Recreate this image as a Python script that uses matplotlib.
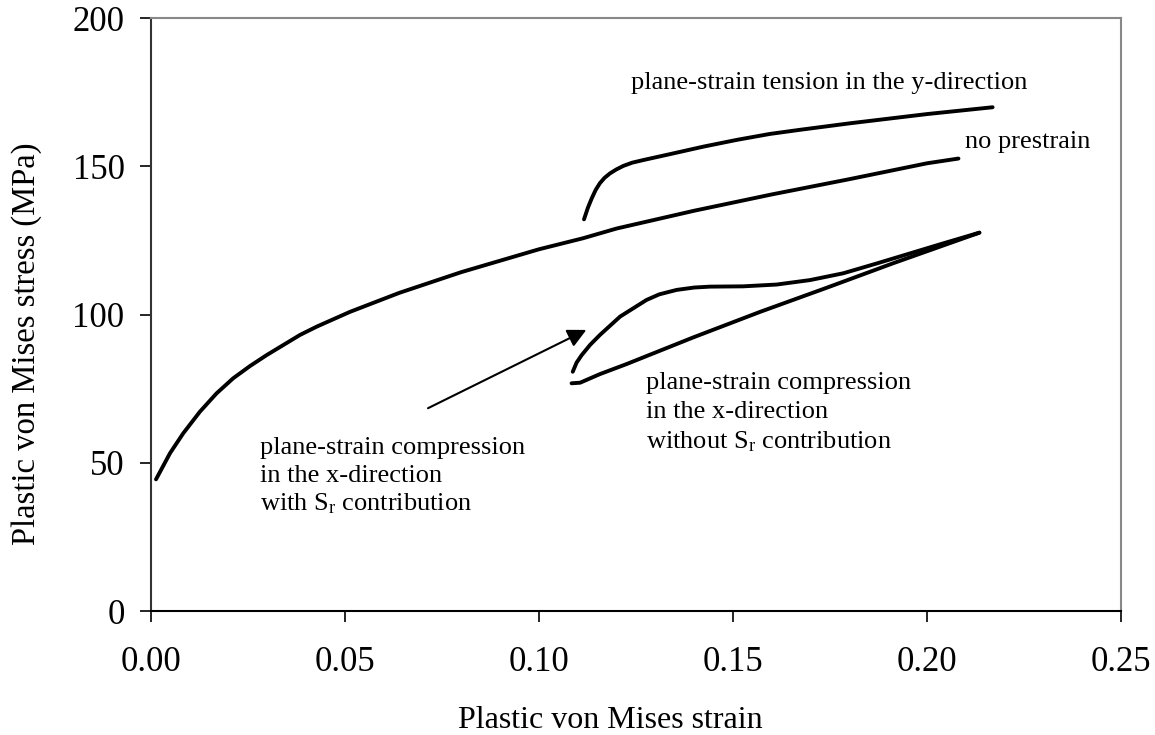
import numpy as np
import matplotlib.pyplot as plt

plt.rcParams['font.family'] = ['Liberation Serif', 'DejaVu Serif']
plt.rcParams['mathtext.fontset'] = 'custom'
plt.rcParams['mathtext.rm'] = 'Liberation Serif'
plt.rcParams['mathtext.it'] = 'Liberation Serif'

# no prestrain
strain_none = [0.0013, 0.0049, 0.0083, 0.0126, 0.0169, 0.0212, 0.0255, 0.0298,
               0.0341, 0.0384, 0.0427, 0.0513, 0.064, 0.08, 0.10, 0.1113, 0.12,
               0.14, 0.16, 0.1802, 0.20, 0.2081]
stress_none = [44.4, 53.2, 59.9, 67.2, 73.4, 78.5, 82.6, 86.3,
               89.7, 93.1, 95.9, 100.9, 107.3, 114.3, 122, 125.7, 129,
               135, 140.5, 145.7, 151, 152.6]

# plane-strain tension in the y-direction
strain_tens = [0.1116, 0.1126, 0.1136, 0.1146, 0.1157, 0.1169, 0.1183, 0.1199,
               0.1217, 0.124, 0.1269, 0.1338, 0.1423, 0.151, 0.1595, 0.1673,
               0.1802, 0.20, 0.2169]
stress_tens = [132.1, 136.0, 139.2, 142.0, 144.3, 146.1, 147.6, 148.9,
               150.1, 151.2, 152.1, 154.1, 156.6, 158.9, 160.9, 162.3,
               164.5, 167.6, 169.9]

# plane-strain compression in x, with Sr contribution
strain_with = [0.1087, 0.1097, 0.111, 0.1132, 0.1157, 0.1209, 0.1277, 0.131,
               0.1355, 0.14, 0.1441, 0.1526, 0.1612, 0.1698, 0.1784, 0.187,
               0.1956, 0.2042, 0.2135]
stress_with = [80.7, 83.8, 86.3, 89.8, 93.1, 99.3, 104.9, 106.8,
               108.3, 109.1, 109.4, 109.5, 110.1, 111.6, 113.9, 117.2,
               120.6, 124, 127.6]

# plane-strain compression in x, without Sr contribution
strain_wo = [0.1084, 0.1106, 0.1157, 0.1226, 0.1398, 0.157, 0.1741, 0.1913, 0.2135]
stress_wo = [76.8, 77.0, 79.9, 83.3, 92.3, 100.9, 109.0, 117.3, 127.6]

fig = plt.figure(figsize=(11.55, 7.35), dpi=100)
ax = fig.add_axes([0.1307, 0.1687, 0.8399, 0.8068])

lw = 2.8
for xs, ys in [(strain_none, stress_none), (strain_tens, stress_tens),
               (strain_with, stress_with), (strain_wo, stress_wo)]:
    ax.plot(xs, ys, color='black', lw=lw, solid_capstyle='round',
            solid_joinstyle='round')

ax.set_xlim(0, 0.25)
ax.set_ylim(0, 200)
ax.set_xticks(np.arange(0, 0.26, 0.05))
ax.set_xticklabels(['0.00', '0.05', '0.10', '0.15', '0.20', '0.25'])
ax.set_yticks([0, 50, 100, 150, 200])
ax.tick_params(axis='both', labelsize=25, direction='out', length=8, width=1.2)
ax.tick_params(axis='x', pad=17)
ax.tick_params(axis='y', pad=11)

ax.spines['bottom'].set_color('black')
ax.spines['left'].set_color('#333333')
ax.spines['top'].set_color('#888888')
ax.spines['right'].set_color('#888888')
for s in ax.spines.values():
    s.set_linewidth(1.5)

ax.set_xlabel('Plastic von Mises strain', fontsize=23)
ax.xaxis.set_label_coords(0.474, -0.197)
ax.xaxis.label.set_verticalalignment('baseline')
ax.set_ylabel('Plastic von Mises stress (MPa)', fontsize=23.5)
ax.yaxis.set_label_coords(-0.128, 0.45)
ax.yaxis.label.set_verticalalignment('center')

fs = 19
ax.text(0.1237, 176.1, 'plane-strain tension in the y-direction', fontsize=fs, va='baseline')
ax.text(0.2098, 156.1, 'no prestrain', fontsize=fs, va='baseline')

lines_wo = ['plane-strain compression', 'in the x-direction',
            'without S$_\\mathrm{r}$ contribution']
lines_with = ['plane-strain compression', 'in the x-direction',
              'with S$_\\mathrm{r}$ contribution']
for i, t in enumerate(lines_wo):
    ax.text(0.1276, 74.9 - i * 9.95, t, fontsize=fs, va='baseline')
for i, t in enumerate(lines_with):
    ax.text(0.0281, 53.1 - i * 9.6, t, fontsize=fs, va='baseline')

ax.annotate('', xy=(0.1122, 94.8), xytext=(0.0714, 68.4),
            arrowprops=dict(arrowstyle='-|>', color='black', lw=1.5,
                            mutation_scale=28, shrinkA=0, shrinkB=0))

fig.savefig('out.png', dpi=100)
